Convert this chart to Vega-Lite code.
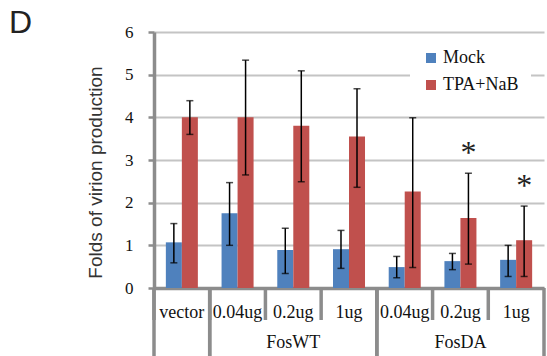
{
  "$schema": "https://vega.github.io/schema/vega-lite/v6.json",
  "width": 390,
  "height": 256,
  "autosize": {"type": "none"},
  "padding": {"left": 154, "top": 32, "right": 3, "bottom": 68},
  "background": "white",
  "title": {"text": "D", "anchor": "start", "frame": "group", "font": "Liberation Sans", "fontSize": 32, "fontWeight": "normal", "color": "#222222", "dx": -145, "dy": 40, "offset": -2, "baseline": "alphabetic"},
  "config": {"view": {"stroke": null}},
  "datasets": {
    "bars": [
      {"cat": "vector", "series": "Mock", "value": 1.07, "lo": 0.59, "hi": 1.51, "sig": ""},
      {"cat": "vector", "series": "TPA+NaB", "value": 4.0, "lo": 3.6, "hi": 4.39, "sig": ""},
      {"cat": "FosWT 0.04ug", "series": "Mock", "value": 1.75, "lo": 1.0, "hi": 2.47, "sig": ""},
      {"cat": "FosWT 0.04ug", "series": "TPA+NaB", "value": 4.0, "lo": 2.65, "hi": 5.34, "sig": ""},
      {"cat": "FosWT 0.2ug", "series": "Mock", "value": 0.89, "lo": 0.34, "hi": 1.4, "sig": ""},
      {"cat": "FosWT 0.2ug", "series": "TPA+NaB", "value": 3.8, "lo": 2.49, "hi": 5.09, "sig": ""},
      {"cat": "FosWT 1ug", "series": "Mock", "value": 0.91, "lo": 0.46, "hi": 1.35, "sig": ""},
      {"cat": "FosWT 1ug", "series": "TPA+NaB", "value": 3.55, "lo": 2.36, "hi": 4.67, "sig": ""},
      {"cat": "FosDA 0.04ug", "series": "Mock", "value": 0.49, "lo": 0.24, "hi": 0.74, "sig": ""},
      {"cat": "FosDA 0.04ug", "series": "TPA+NaB", "value": 2.26, "lo": 0.48, "hi": 3.99, "sig": ""},
      {"cat": "FosDA 0.2ug", "series": "Mock", "value": 0.63, "lo": 0.43, "hi": 0.81, "sig": ""},
      {"cat": "FosDA 0.2ug", "series": "TPA+NaB", "value": 1.64, "lo": 0.56, "hi": 2.69, "sig": "*"},
      {"cat": "FosDA 1ug", "series": "Mock", "value": 0.66, "lo": 0.27, "hi": 1.0, "sig": ""},
      {"cat": "FosDA 1ug", "series": "TPA+NaB", "value": 1.12, "lo": 0.27, "hi": 1.92, "sig": "*"}
    ],
    "groups": [
      {"group": "", "first": "vector", "mid": "vector", "last": "vector"},
      {"group": "FosWT", "first": "FosWT 0.04ug", "mid": "FosWT 0.2ug", "last": "FosWT 1ug"},
      {"group": "FosDA", "first": "FosDA 0.04ug", "mid": "FosDA 0.2ug", "last": "FosDA 1ug"}
    ]
  },
  "layer": [
    {
      "data": {"name": "bars"},
      "mark": {"type": "bar"},
      "encoding": {
        "x": {"field": "cat", "type": "nominal", "sort": null,
          "scale": {"domain": ["vector", "FosWT 0.04ug", "FosWT 0.2ug", "FosWT 1ug", "FosDA 0.04ug", "FosDA 0.2ug", "FosDA 1ug"], "paddingInner": 0, "paddingOuter": 0},
          "axis": {"title": null, "labelAngle": 0, "ticks": false, "domain": true, "domainColor": "#8c8c8c", "domainWidth": 3.5, "labelExpr": "split(datum.label, ' ')[length(split(datum.label, ' ')) - 1]", "labelFont": "Liberation Serif", "labelFontSize": 18, "labelColor": "#111111", "labelBaseline": "middle", "labelPadding": 24}},
        "xOffset": {"field": "series", "type": "nominal", "scale": {"domain": ["Mock", "TPA+NaB"], "paddingInner": 0, "paddingOuter": 0.74}},
        "y": {"field": "value", "type": "quantitative",
          "scale": {"domain": [0, 6], "nice": false},
          "axis": {"title": "Folds of virion production", "values": [0, 1, 2, 3, 4, 5, 6], "grid": true, "gridColor": "#c4c4c4", "gridWidth": 1.8, "domainColor": "#8c8c8c", "domainWidth": 3.5, "tickColor": "#8c8c8c", "tickSize": 6, "tickWidth": 2.5, "labelFont": "Liberation Serif", "labelFontSize": 17, "labelColor": "#111111", "labelPadding": 15, "titleFont": "Liberation Sans", "titleFontSize": 19, "titleFontWeight": "normal", "titleColor": "#333333", "titleX": -59, "titleY": 140, "titleAngle": -90, "titleBaseline": "middle", "titleAlign": "center"}},
        "color": {"field": "series", "type": "nominal",
          "scale": {"domain": ["Mock", "TPA+NaB"], "range": ["#4F81BD", "#C0504D"]},
          "legend": {"title": null, "orient": "none", "legendX": 256, "legendY": 5, "padding": 12, "fillColor": "white", "symbolType": "square", "symbolSize": 100, "symbolStrokeWidth": 0, "labelFont": "Liberation Serif", "labelFontSize": 18, "labelColor": "#111111", "labelOffset": 3, "rowPadding": 9}}
      }
    },
    {
      "data": {"name": "bars"},
      "mark": {"type": "rule", "color": "black", "strokeWidth": 1.5},
      "encoding": {
        "x": {"field": "cat", "type": "nominal"},
        "xOffset": {"field": "series", "type": "nominal"},
        "y": {"field": "lo", "type": "quantitative"},
        "y2": {"field": "hi"}
      }
    },
    {
      "data": {"name": "bars"},
      "mark": {"type": "tick", "color": "black", "size": 7, "thickness": 1.5, "orient": "horizontal"},
      "encoding": {
        "x": {"field": "cat", "type": "nominal"},
        "xOffset": {"field": "series", "type": "nominal"},
        "y": {"field": "lo", "type": "quantitative"}
      }
    },
    {
      "data": {"name": "bars"},
      "mark": {"type": "tick", "color": "black", "size": 7, "thickness": 1.5, "orient": "horizontal"},
      "encoding": {
        "x": {"field": "cat", "type": "nominal"},
        "xOffset": {"field": "series", "type": "nominal"},
        "y": {"field": "hi", "type": "quantitative"}
      }
    },
    {
      "data": {"name": "bars"},
      "mark": {"type": "text", "font": "Liberation Serif", "fontSize": 32, "color": "#222222", "baseline": "alphabetic", "dy": -10},
      "encoding": {
        "x": {"field": "cat", "type": "nominal"},
        "xOffset": {"field": "series", "type": "nominal"},
        "y": {"field": "hi", "type": "quantitative"},
        "text": {"field": "sig"}
      }
    },
    {
      "data": {"name": "bars"},
      "transform": [{"aggregate": [{"op": "count", "as": "n"}], "groupby": ["cat"]}],
      "mark": {"type": "rule", "color": "#8c8c8c", "strokeWidth": 3.5},
      "encoding": {
        "x": {"field": "cat", "type": "nominal", "bandPosition": 0},
        "y": {"datum": 0, "type": "quantitative"},
        "y2": {"datum": -0.75}
      }
    },
    {
      "data": {"name": "groups"},
      "mark": {"type": "rule", "color": "#8c8c8c", "strokeWidth": 3.5},
      "encoding": {
        "x": {"field": "first", "type": "nominal", "bandPosition": 0},
        "y": {"datum": 0, "type": "quantitative"},
        "y2": {"datum": -1.62}
      }
    },
    {
      "data": {"name": "groups"},
      "mark": {"type": "rule", "color": "#8c8c8c", "strokeWidth": 3.5},
      "encoding": {
        "x": {"field": "last", "type": "nominal", "bandPosition": 1},
        "y": {"datum": 0, "type": "quantitative"},
        "y2": {"datum": -1.62}
      }
    },
    {
      "data": {"name": "groups"},
      "mark": {"type": "text", "font": "Liberation Serif", "fontSize": 18, "color": "#111111", "baseline": "middle"},
      "encoding": {
        "x": {"field": "mid", "type": "nominal"},
        "y": {"datum": -1.3, "type": "quantitative"},
        "text": {"field": "group"}
      }
    }
  ]
}
